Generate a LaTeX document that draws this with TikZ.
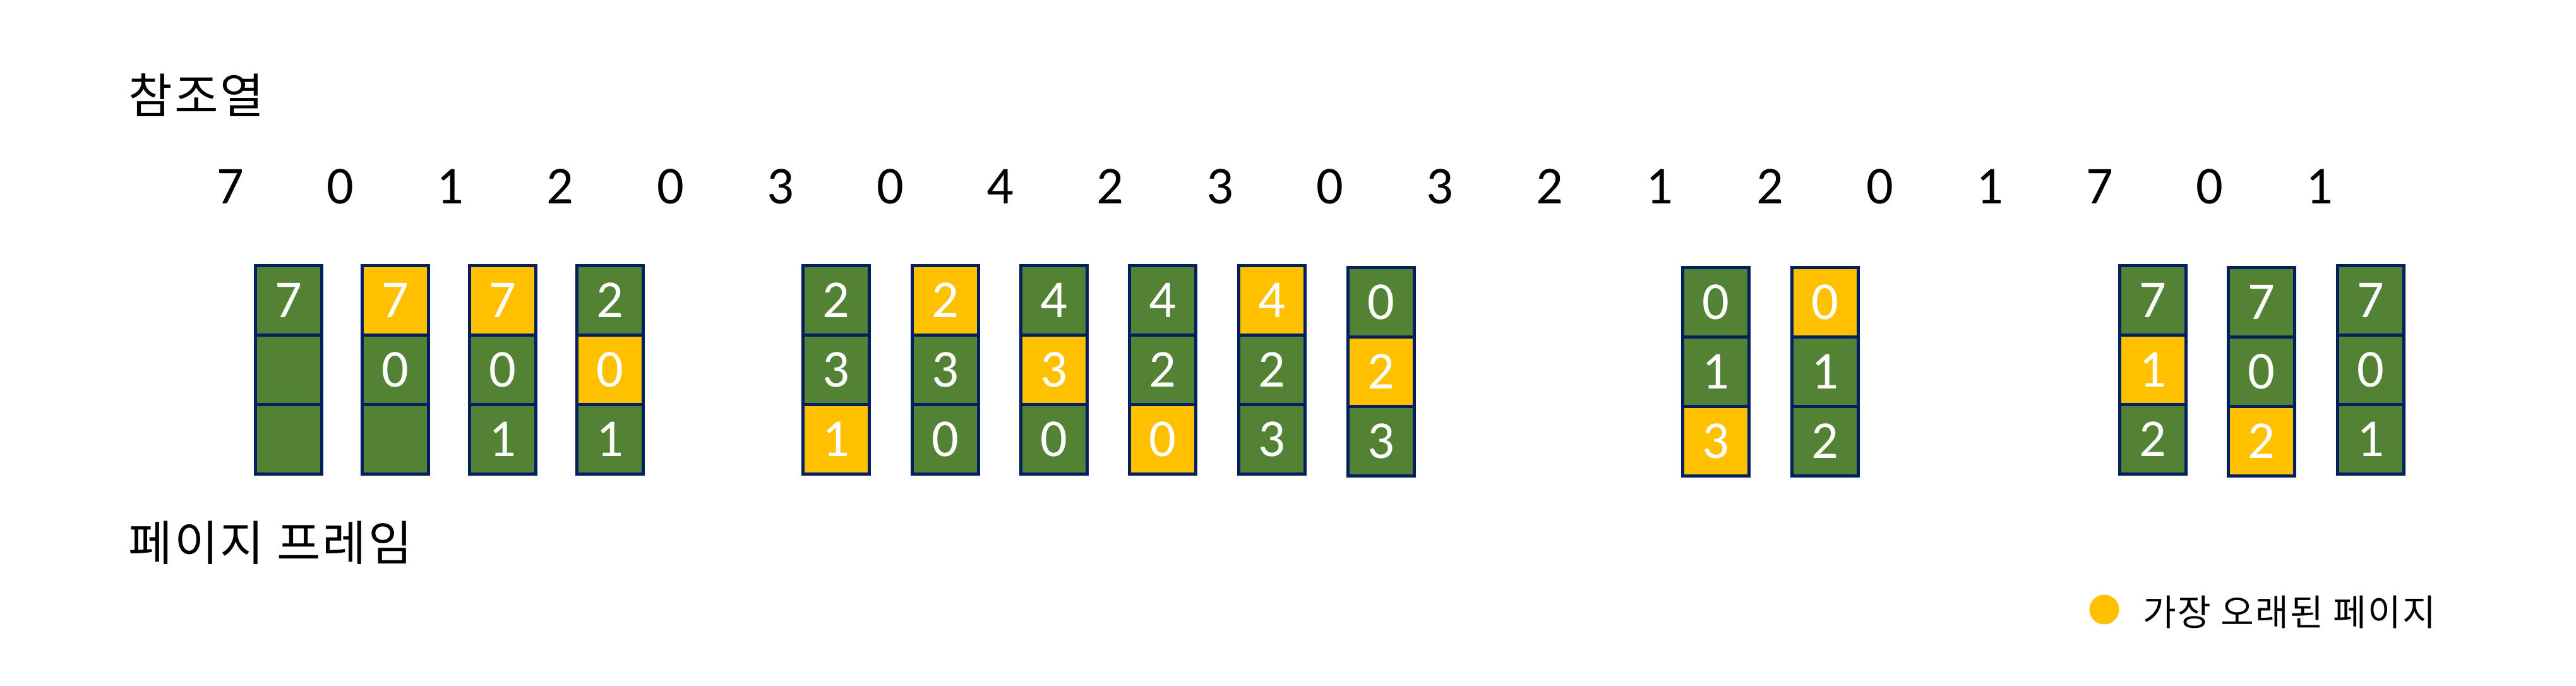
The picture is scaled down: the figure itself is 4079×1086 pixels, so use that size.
\documentclass[tikz,border=0pt]{standalone}
\usepackage{fontspec}
\setmainfont{Carlito}
\newfontfamily\kor[LetterSpace=4]{Noto Sans CJK KR}
\usetikzlibrary{positioning}
\definecolor{frgreen}{HTML}{548235}
\definecolor{frgold}{HTML}{FFC000}
\definecolor{frnavy}{HTML}{002060}
\tikzstyle{heading}=[inner sep=0pt,anchor=base west,font=\kor\fontsize{21.5}{25}\selectfont]
\tikzstyle{legendtext}=[heading,font=\kor\fontsize{16.3}{19}\selectfont]
\tikzstyle{refnum}=[inner sep=0pt,anchor=base,font=\fontsize{24}{28}\selectfont]
\tikzstyle{cell}=[draw=frnavy,line width=0.05cm,inner sep=0pt,outer sep=0pt,
  minimum width=1.05cm,minimum height=1.1cm,text=white,text height=0.53cm,text depth=0pt,
  font=\fontsize{24}{28}\selectfont]
\tikzstyle{G}=[fill=frgreen]
\tikzstyle{Y}=[fill=frgold]
\begin{document}
\begin{tikzpicture}[x=0.01cm,y=-0.01cm]
	\useasboundingbox (0,0) rectangle (4079,1086);
	\node[heading] (refhead) at (203,180) {참조열};
	\node[heading] (framehead) at (203,887) {페이지 프레임};
	% reference string
	\foreach \v [count=\i from 0] in {7,0,1,2,0,3,0,4,2,3,0,3,2,1,2,0,1,7,0,1}
		\node[refnum] (r\i) at (365+174.1*\i,323) {\v};
	% frames after each fault
	\foreach \x/\t/\a/\ca/\b/\cb/\c/\cc [count=\i] in {
		457/418/7/G/{}/G/{}/G,  626/418/7/Y/0/G/{}/G,  796/418/7/Y/0/G/1/G,
		966/418/2/G/0/Y/1/G,   1324/418/2/G/3/G/1/Y,  1497/418/2/Y/3/G/0/G,
		1669/418/4/G/3/Y/0/G,  1841/418/4/G/2/G/0/Y,  2014/418/4/Y/2/G/3/G,
		2187/421/0/G/2/Y/3/G,  2717/421/0/G/1/G/3/Y,  2890/421/0/Y/1/G/2/G,
		3409/418/7/G/1/Y/2/G,  3581/421/7/G/0/G/2/Y,  3754/418/7/G/0/G/1/G} {
		\node[cell,\ca,anchor=north] (f\i-1) at (\x,\t+2.5) {\a};
		\node[cell,\cb,below=0pt of f\i-1] (f\i-2) {\b};
		\node[cell,\cc,below=0pt of f\i-2] (f\i-3) {\c};
	}
	% legend
	\node[circle,fill=frgold,minimum size=0.47cm,inner sep=0pt] (dot) at (3332,965) {};
	\node[legendtext] (oldest) at (3393,991) {가장 오래된 페이지};
\end{tikzpicture}
\end{document}
